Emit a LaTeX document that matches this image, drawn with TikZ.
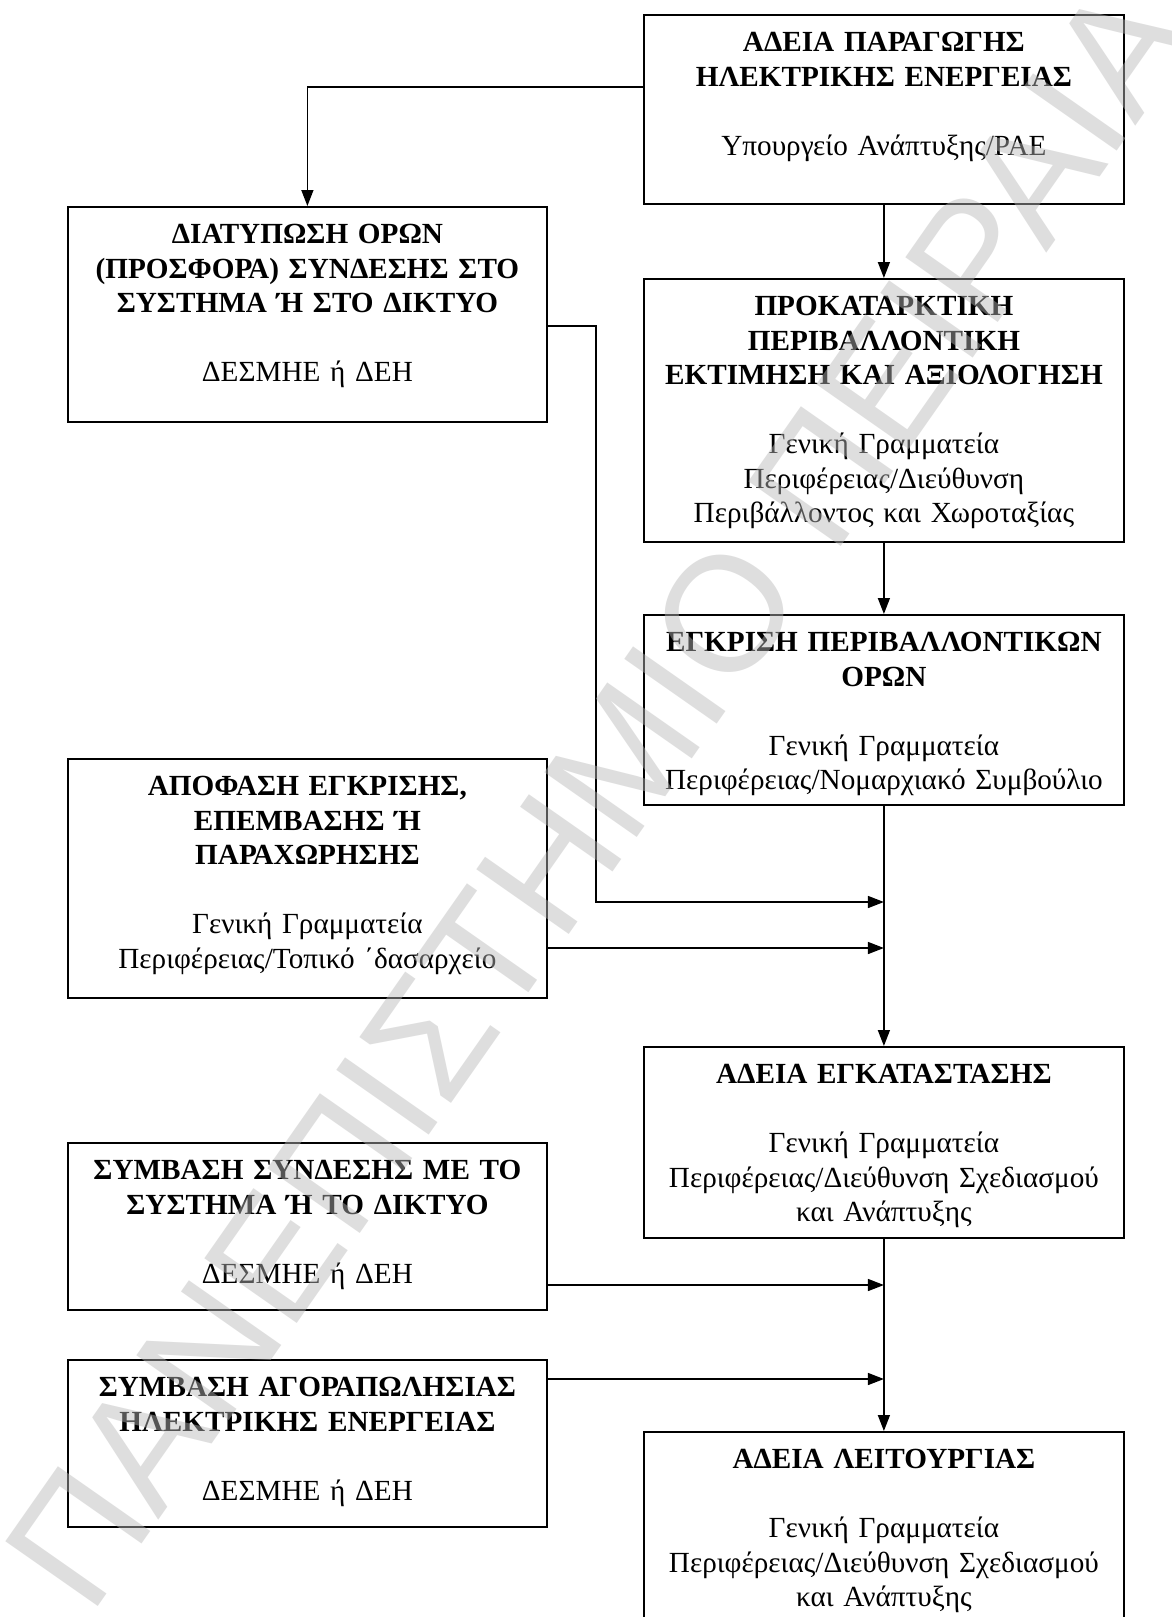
\documentclass[tikz,border=0pt]{standalone}
\usepackage{fontspec}
\setmainfont{Liberation Serif}
\newfontfamily\wmfont{Liberation Sans}
\usetikzlibrary{arrows.meta,calc}
\tikzset{
  boxnode/.style={draw=black, line width=1.8pt, rectangle, inner sep=0pt},
  txt/.style={font=\fontsize{29.2}{34.5}\selectfont, align=center, text width=470pt, inner sep=0pt, anchor=base},
  conn/.style={draw=black, line width=1.5pt, -{Triangle[length=16pt,width=12pt]}},
  wmark/.style={font=\wmfont\fontsize{164}{164}\selectfont, text=black!28, text opacity=0.46, inner sep=0pt}
}
\begin{document}
\begin{tikzpicture}[x=1pt,y=-1pt]
\fill[white] (0,0) rectangle (1171,1617);
\useasboundingbox (0,0) rectangle (1171,1617);
\clip (0,0) rectangle (1171,1617);
% boxes
\node[boxnode, minimum width=480pt, minimum height=189pt, anchor=north west] (b1) at (643,14) {};
\node[boxnode, minimum width=479pt, minimum height=215pt, anchor=north west] (b2) at (67,206) {};
\node[boxnode, minimum width=480pt, minimum height=263pt, anchor=north west] (b3) at (643,278) {};
\node[boxnode, minimum width=480pt, minimum height=190pt, anchor=north west] (b4) at (643,614) {};
\node[boxnode, minimum width=479pt, minimum height=239pt, anchor=north west] (b5) at (67,758) {};
\node[boxnode, minimum width=480pt, minimum height=191pt, anchor=north west] (b6) at (643,1046) {};
\node[boxnode, minimum width=479pt, minimum height=167pt, anchor=north west] (b7) at (67,1142) {};
\node[boxnode, minimum width=479pt, minimum height=167pt, anchor=north west] (b8) at (67,1359) {};
\node[boxnode, minimum width=480pt, minimum height=240pt, anchor=north west] (b9) at (643,1431) {};
% texts
\node[txt] (t1) at ($(b1.north)+(0,37.5)$) {\textbf{ΑΔΕΙΑ ΠΑΡΑΓΩΓΗΣ}\\\textbf{ΗΛΕΚΤΡΙΚΗΣ ΕΝΕΡΓΕΙΑΣ}\\[34.5pt]Υπουργείο Ανάπτυξης/ΡΑΕ};
\node[txt] (t2) at ($(b2.north)+(0,37.5)$) {\textbf{ΔΙΑΤΥΠΩΣΗ ΟΡΩΝ}\\\textbf{(ΠΡΟΣΦΟΡΑ) ΣΥΝΔΕΣΗΣ ΣΤΟ}\\\textbf{ΣΥΣΤΗΜΑ Ή ΣΤΟ ΔΙΚΤΥΟ}\\[34.5pt]ΔΕΣΜΗΕ ή ΔΕΗ};
\node[txt] (t3) at ($(b3.north)+(0,37.5)$) {\textbf{ΠΡΟΚΑΤΑΡΚΤΙΚΗ}\\\textbf{ΠΕΡΙΒΑΛΛΟΝΤΙΚΗ}\\\textbf{ΕΚΤΙΜΗΣΗ ΚΑΙ ΑΞΙΟΛΟΓΗΣΗ}\\[34.5pt]Γενική Γραμματεία\\Περιφέρειας/Διεύθυνση\\Περιβάλλοντος και Χωροταξίας};
\node[txt] (t4) at ($(b4.north)+(0,37.5)$) {\textbf{ΕΓΚΡΙΣΗ ΠΕΡΙΒΑΛΛΟΝΤΙΚΩΝ}\\\textbf{ΟΡΩΝ}\\[34.5pt]Γενική Γραμματεία\\Περιφέρειας/Νομαρχιακό Συμβούλιο};
\node[txt] (t5) at ($(b5.north)+(0,37.5)$) {\textbf{ΑΠΟΦΑΣΗ ΕΓΚΡΙΣΗΣ,}\\\textbf{ΕΠΕΜΒΑΣΗΣ Ή}\\\textbf{ΠΑΡΑΧΩΡΗΣΗΣ}\\[34.5pt]Γενική Γραμματεία\\Περιφέρειας/Τοπικό ΄δασαρχείο};
\node[txt] (t6) at ($(b6.north)+(0,37.5)$) {\textbf{ΑΔΕΙΑ ΕΓΚΑΤΑΣΤΑΣΗΣ}\\[34.5pt]Γενική Γραμματεία\\Περιφέρειας/Διεύθυνση Σχεδιασμού\\και Ανάπτυξης};
\node[txt] (t7) at ($(b7.north)+(0,37.5)$) {\textbf{ΣΥΜΒΑΣΗ ΣΥΝΔΕΣΗΣ ΜΕ ΤΟ}\\\textbf{ΣΥΣΤΗΜΑ Ή ΤΟ ΔΙΚΤΥΟ}\\[34.5pt]ΔΕΣΜΗΕ ή ΔΕΗ};
\node[txt] (t8) at ($(b8.north)+(0,37.5)$) {\textbf{ΣΥΜΒΑΣΗ ΑΓΟΡΑΠΩΛΗΣΙΑΣ}\\\textbf{ΗΛΕΚΤΡΙΚΗΣ ΕΝΕΡΓΕΙΑΣ}\\[34.5pt]ΔΕΣΜΗΕ ή ΔΕΗ};
\node[txt] (t9) at ($(b9.north)+(0,37.5)$) {\textbf{ΑΔΕΙΑ ΛΕΙΤΟΥΡΓΙΑΣ}\\[34.5pt]Γενική Γραμματεία\\Περιφέρειας/Διεύθυνση Σχεδιασμού\\και Ανάπτυξης};
% connectors
\coordinate (c1) at ($(b1.north west)+(0,73)$);
\draw[conn] (c1) -| (b2.north);
\draw[conn] (b1.south) -- (b3.north);
\draw[conn] (b3.south) -- (b4.north);
\draw[conn] (b4.south) -- (b6.north);
\draw[conn] (b6.south) -- (b9.north);
\coordinate (c2) at ($(b2.north east)+(0,120)$);
\coordinate (c2b) at (596,326);
\coordinate (c2c) at (596,902);
\coordinate (j1) at (b4.south |- c2c);
\draw[conn] (c2) -- (c2b) -- (c2c) -- (j1);
\coordinate (c5) at ($(b5.north east)+(0,190)$);
\coordinate (j2) at (b4.south |- c5);
\draw[conn] (c5) -- (j2);
\coordinate (c7) at ($(b7.north east)+(0,143)$);
\coordinate (j3) at (b6.south |- c7);
\draw[conn] (c7) -- (j3);
\coordinate (c8) at ($(b8.north east)+(0,20)$);
\coordinate (j4) at (b6.south |- c8);
\draw[conn] (c8) -- (j4);
% watermark
\node[wmark, rotate=55] (wm) at (598,795) {ΠΑΝΕΠΙΣΤΗΜΙΟ ΠΕΙΡΑΙΑ};
\end{tikzpicture}
\end{document}
